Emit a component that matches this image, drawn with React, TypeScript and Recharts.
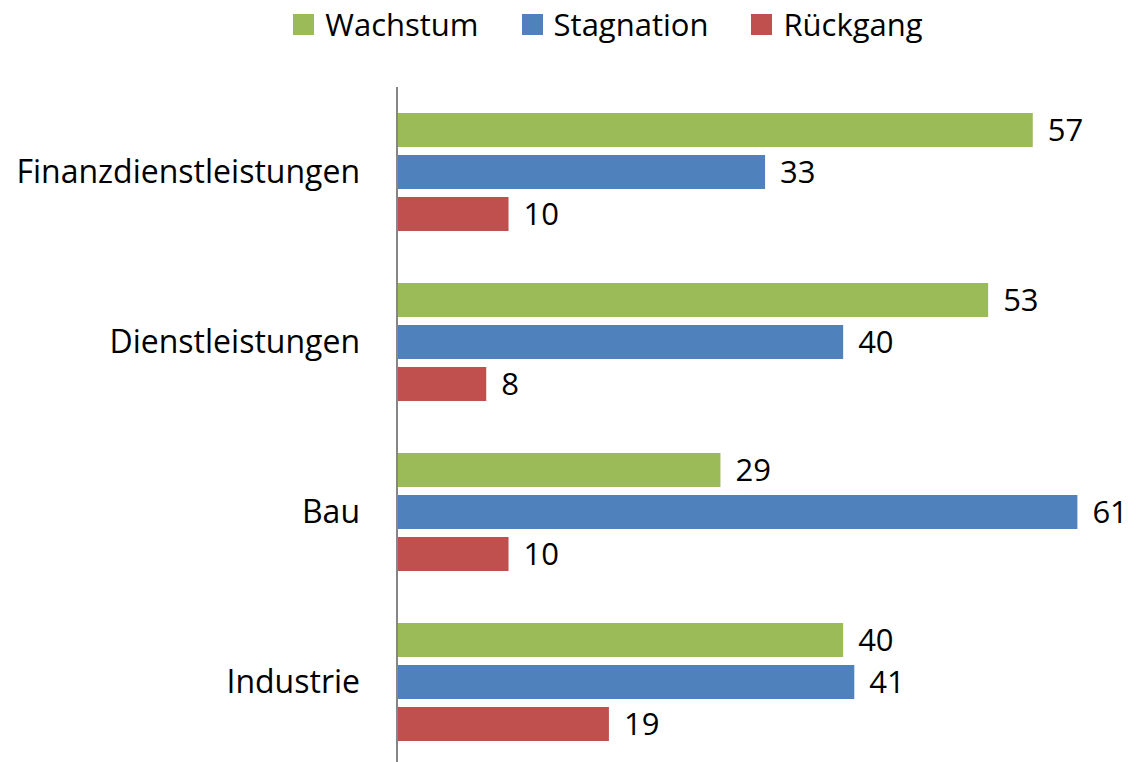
import React from 'react';
import { BarChart, Bar, XAxis, YAxis, Legend, LabelList } from 'recharts';

const categories = ['Finanzdienstleistungen', 'Dienstleistungen', 'Bau', 'Industrie'];
const wachstum = [57, 53, 29, 40];
const stagnation = [33, 40, 61, 41];
const rueckgang = [10, 8, 10, 19];

const seriesNames = ['Wachstum', 'Stagnation', 'Rückgang'];
const seriesColors = ['#9BBB59', '#4F81BD', '#C0504D'];

const FONT = '"Open Sans", sans-serif';

const chartData = categories.map((name, i) => ({
  name,
  Wachstum: wachstum[i],
  Stagnation: stagnation[i],
  'Rückgang': rueckgang[i],
}));

// legend sits a bit right of centre in the original
const LegendBox = () => (
  <div style={{ display: 'flex', justifyContent: 'center', alignItems: 'center', paddingLeft: 94, fontFamily: FONT, fontSize: 31, color: '#000' }}>
    {seriesNames.map((s, i) => (
      <div key={s} style={{ display: 'flex', alignItems: 'center', marginRight: i < seriesNames.length - 1 ? 43 : 0 }}>
        <span style={{ width: 21, height: 21, background: seriesColors[i], display: 'inline-block', marginRight: 11 }} />
        <span>{s}</span>
      </div>
    ))}
  </div>
);

const App: React.FC = () => {
  return (
    <div style={{ position: 'fixed', top: 0, left: 0, width: 1136, height: 762, overflow: 'hidden', background: '#fff' }}>
      <BarChart
        width={1136}
        height={767}
        data={chartData}
        layout="vertical"
        margin={{ top: 37, right: 14, bottom: 0, left: 0 }}
        barSize={34}
        barGap={8}
      >
        <Legend verticalAlign="top" align="center" height={50} content={() => <LegendBox />} wrapperStyle={{ top: 3 }} />
        <XAxis type="number" domain={[0, 65]} hide />
        <YAxis
          type="category"
          dataKey="name"
          width={397}
          tickSize={0}
          tickMargin={37}
          axisLine={{ stroke: '#868686', strokeWidth: 2 }}
          tick={{ fill: '#000', fontSize: 32, fontFamily: FONT }}
        />
        {seriesNames.map((s, i) => (
          <Bar key={s} dataKey={s} fill={seriesColors[i]} isAnimationActive={false}>
            <LabelList dataKey={s} position="right" offset={15} style={{ fill: '#000', fontSize: 31, fontFamily: FONT }} />
          </Bar>
        ))}
      </BarChart>
    </div>
  );
};

export default App;
